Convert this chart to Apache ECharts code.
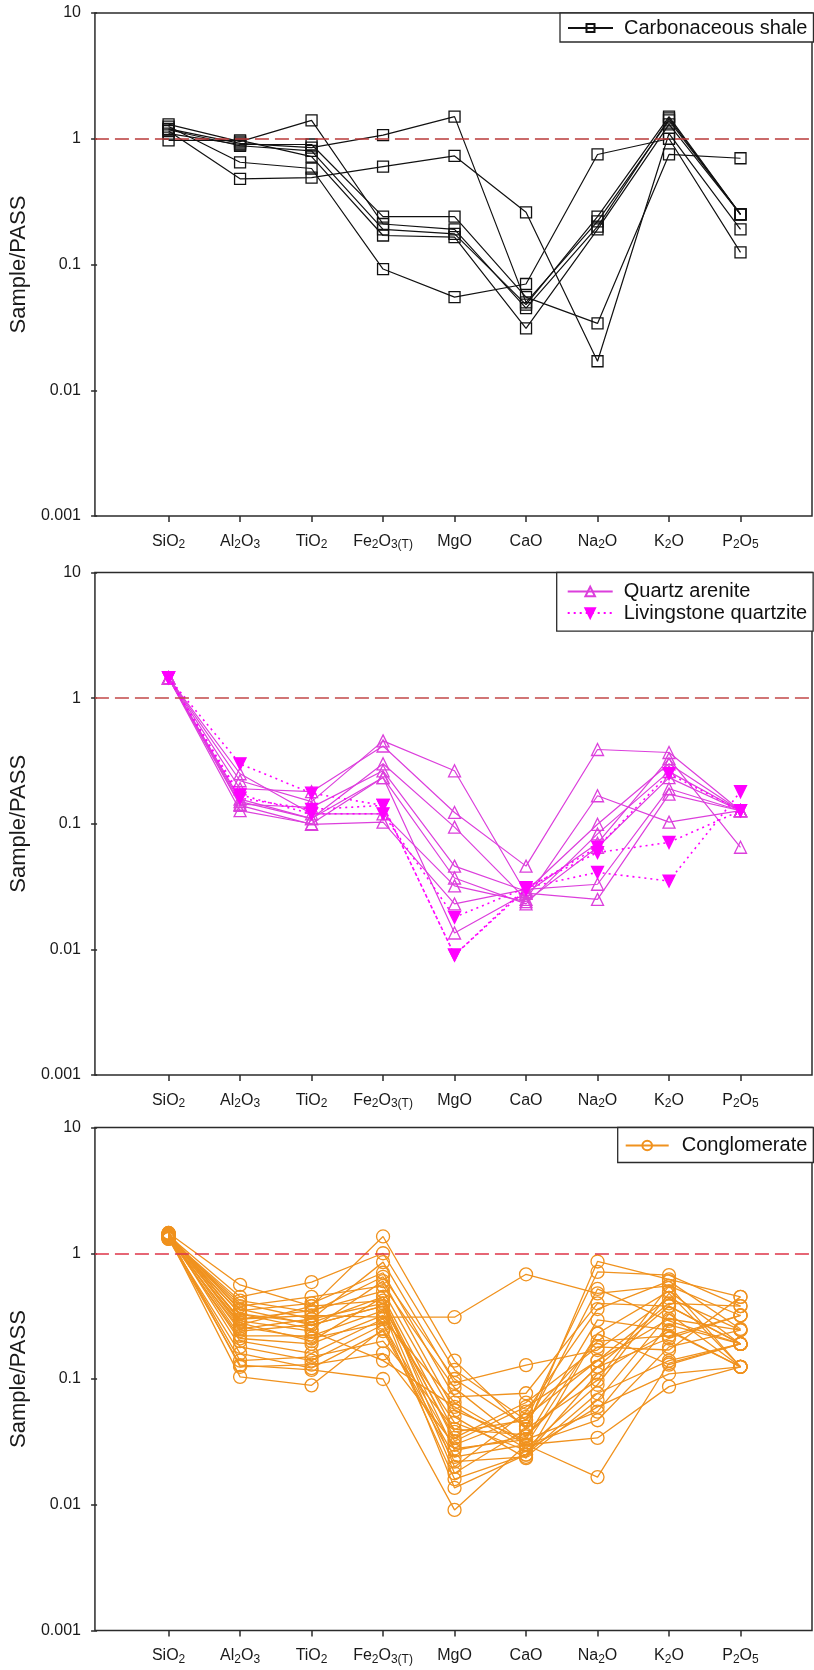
<!DOCTYPE html>
<html>
<head>
<meta charset="utf-8">
<script src="https://cdn.jsdelivr.net/npm/echarts@6/dist/echarts.min.js"></script>
<style>
html,body{margin:0;padding:0;background:#fff;}
#chart{width:814px;height:1670px;}
</style>
</head>
<body>
<div id="chart"></div>
<script>
// ---------- data ----------
const categories = ['SiO2', 'Al2O3', 'TiO2', 'Fe2O3(T)', 'MgO', 'CaO', 'Na2O', 'K2O', 'P2O5'];
const categoryLabels = ['SiO{s|2}', 'Al{s|2}O{s|3}', 'TiO{s|2}', 'Fe{s|2}O{s|3(T)}', 'MgO', 'CaO', 'Na{s|2}O', 'K{s|2}O', 'P{s|2}O{s|5}'];
const yTickLabels = ['0.001', '0.01', '0.1', '1', '10'];

const carbonaceousShale = [
  [1.30, 0.95, 1.40, 0.21, 0.19, 0.045, 0.20, 1.45, 0.25],
  [1.20, 0.92, 0.85, 1.07, 1.50, 0.050, 0.22, 1.40, 0.25],
  [1.15, 0.48, 0.49, 0.60, 0.73, 0.26, 0.017, 1.10, 0.19],
  [1.25, 0.65, 0.58, 0.092, 0.055, 0.070, 0.75, 1.00, 0.125],
  [1.10, 0.90, 0.90, 0.24, 0.24, 0.055, 0.034, 0.75, 0.70],
  [0.97, 0.97, 0.72, 0.17, 0.165, 0.031, 0.19, 1.30, 0.25],
  [1.18, 0.88, 0.80, 0.19, 0.175, 0.048, 0.24, 1.50, 0.25]
];

const quartzArenite = [
  [1.45, 0.22, 0.15, 0.457, 0.264, 0.028, 0.070, 0.33, 0.065],
  [1.45, 0.19, 0.18, 0.416, 0.123, 0.046, 0.39, 0.369, 0.127],
  [1.45, 0.157, 0.11, 0.30, 0.094, 0.025, 0.167, 0.103, 0.127],
  [1.45, 0.143, 0.135, 0.264, 0.046, 0.029, 0.099, 0.30, 0.127],
  [1.45, 0.127, 0.10, 0.233, 0.037, 0.023, 0.083, 0.26, 0.127],
  [1.45, 0.25, 0.12, 0.12, 0.032, 0.024, 0.065, 0.233, 0.127],
  [1.45, 0.14, 0.099, 0.103, 0.023, 0.030, 0.033, 0.19, 0.127],
  [1.45, 0.15, 0.11, 0.233, 0.0135, 0.028, 0.025, 0.172, 0.127]
];

const livingstoneQuartzite = [
  [1.45, 0.30, 0.175, 0.14, 0.009, 0.031, 0.059, 0.071, 0.127],
  [1.45, 0.17, 0.12, 0.12, 0.018, 0.031, 0.041, 0.035, 0.18],
  [1.45, 0.16, 0.13, 0.14, 0.009, 0.030, 0.065, 0.25, 0.127]
];

const conglomerate = [
  [1.40, 0.30, 0.32, 0.31, 0.31, 0.68, 0.48, 0.55, 0.32],
  [1.35, 0.104, 0.089, 0.25, 0.024, 0.030, 0.0166, 0.134, 0.19],
  [1.30, 0.129, 0.118, 0.10, 0.0091, 0.030, 0.034, 0.087, 0.125],
  [1.45, 0.56, 0.38, 1.36, 0.14, 0.040, 0.86, 0.62, 0.45],
  [1.38, 0.45, 0.59, 1.00, 0.118, 0.047, 0.71, 0.67, 0.38],
  [1.32, 0.40, 0.30, 0.85, 0.093, 0.129, 0.17, 0.44, 0.245],
  [1.42, 0.35, 0.40, 0.70, 0.072, 0.077, 0.40, 0.38, 0.19],
  [1.36, 0.33, 0.25, 0.60, 0.056, 0.033, 0.295, 0.245, 0.125],
  [1.40, 0.30, 0.35, 0.50, 0.050, 0.0235, 0.23, 0.50, 0.19],
  [1.33, 0.28, 0.20, 0.45, 0.038, 0.047, 0.20, 0.22, 0.32],
  [1.44, 0.27, 0.38, 0.42, 0.032, 0.060, 0.14, 0.30, 0.245],
  [1.31, 0.25, 0.30, 0.40, 0.027, 0.035, 0.125, 0.38, 0.19],
  [1.37, 0.24, 0.27, 0.38, 0.0178, 0.040, 0.098, 0.55, 0.125],
  [1.41, 0.22, 0.22, 0.35, 0.0136, 0.025, 0.077, 0.14, 0.19],
  [1.34, 0.21, 0.19, 0.32, 0.045, 0.027, 0.060, 0.11, 0.125],
  [1.39, 0.20, 0.16, 0.30, 0.065, 0.030, 0.047, 0.18, 0.245],
  [1.43, 0.18, 0.14, 0.27, 0.028, 0.033, 0.055, 0.27, 0.19],
  [1.30, 0.16, 0.122, 0.24, 0.022, 0.024, 0.068, 0.33, 0.125],
  [1.35, 0.14, 0.15, 0.20, 0.040, 0.036, 0.125, 0.21, 0.32],
  [1.40, 0.125, 0.13, 0.16, 0.030, 0.050, 0.14, 0.40, 0.38],
  [1.33, 0.38, 0.45, 0.55, 0.085, 0.030, 0.23, 0.13, 0.19],
  [1.38, 0.33, 0.28, 0.45, 0.020, 0.055, 0.36, 0.60, 0.25],
  [1.45, 0.29, 0.24, 0.14, 0.060, 0.028, 0.090, 0.48, 0.125],
  [1.32, 0.42, 0.34, 0.65, 0.100, 0.042, 0.52, 0.29, 0.19],
  [1.36, 0.36, 0.27, 0.38, 0.034, 0.065, 0.18, 0.17, 0.45],
  [1.42, 0.26, 0.21, 0.28, 0.016, 0.025, 0.11, 0.24, 0.125]
];

// ---------- chart ----------
const FF = '"Liberation Sans", Arial, Helvetica, sans-serif';
const AXIS = '#2b2b2b';
const tickPositions = categories.map((c, i) => i + 1);
const downTri = 'path://M0,0 L10,0 L5,9 Z';

const grids = [
  { left: 94, top: 13, width: 718, height: 503 },
  { left: 94, top: 572.5, width: 718, height: 502.5 },
  { left: 94, top: 1127.5, width: 718, height: 503 }
].map(g => Object.assign({ show: true, borderColor: AXIS, borderWidth: 1.5, backgroundColor: 'transparent' }, g));

const xAxes = grids.map((g, i) => ({
  type: 'value', gridIndex: i, min: -0.03, max: 10,
  axisLine: { show: false },
  axisTick: { show: true, inside: false, length: 6, customValues: tickPositions, lineStyle: { color: AXIS, width: 1.5 } },
  splitLine: { show: false },
  axisLabel: {
    show: true, customValues: tickPositions, margin: 16,
    formatter: v => categoryLabels[Math.round(v) - 1] || '',
    color: '#1a1a1a', fontFamily: FF, fontSize: 16, lineHeight: 19,
    rich: { s: { fontFamily: FF, fontSize: 12, lineHeight: 12, verticalAlign: 'bottom', color: '#1a1a1a' } }
  }
}));

const yAxes = grids.map((g, i) => ({
  type: 'log', logBase: 10, gridIndex: i, min: 0.001, max: 10,
  name: 'Sample/PASS', nameLocation: 'middle', nameGap: 61,
  nameTextStyle: { fontFamily: FF, fontSize: 22, color: '#1a1a1a' },
  axisLine: { show: false },
  axisTick: { show: true, inside: false, length: 6, lineStyle: { color: AXIS, width: 1.5 } },
  splitLine: { show: false },
  minorTick: { show: false },
  axisLabel: {
    margin: 14, fontFamily: FF, fontSize: 16, color: '#1a1a1a',
    formatter: v => {
      const e = Math.round(Math.log10(v));
      return yTickLabels[e + 3] || '';
    }
  }
}));

function refLine(color) {
  return {
    silent: true, symbol: ['none', 'none'], label: { show: false },
    lineStyle: { color: color, type: [14, 6], width: 1.5 },
    data: [{ yAxis: 1 }]
  };
}

function makeSeries(rows, name, gi, opts) {
  return rows.map((row, k) => {
    const s = {
      type: 'line', name: name, xAxisIndex: gi, yAxisIndex: gi,
      data: row.map((v, i) => [i + 1, v]),
      symbol: opts.symbol, symbolSize: opts.size,
      showAllSymbol: true,
      lineStyle: { color: opts.color, width: opts.lineWidth || 1.2, type: opts.lineType || 'solid' },
      itemStyle: { color: opts.fill, borderColor: opts.color, borderWidth: opts.borderWidth || 1.3 },
      emphasis: { disabled: true },
      z: opts.z || 2
    };
    if (k === 0 && opts.refColor) s.markLine = refLine(opts.refColor);
    return s;
  });
}

const series = [].concat(
  makeSeries(carbonaceousShale, 'Carbonaceous shale', 0,
    { symbol: 'rect', size: 11, color: '#111111', fill: 'rgba(0,0,0,0)', refColor: '#b93a3a' }),
  makeSeries(quartzArenite, 'Quartz arenite', 1,
    { symbol: 'triangle', size: 12, color: '#dc3fdc', fill: 'rgba(0,0,0,0)', refColor: '#c24848' }),
  makeSeries(livingstoneQuartzite, 'Livingstone quartzite', 1,
    { symbol: downTri, size: 12, color: '#ff00ff', fill: '#ff00ff', lineType: [2, 4], lineWidth: 1.6, z: 3 }),
  makeSeries(conglomerate, 'Conglomerate', 2,
    { symbol: 'circle', size: 13, color: '#f0921e', fill: 'rgba(0,0,0,0)', lineWidth: 1.3, refColor: '#de3548' })
);

const legendBase = {
  orient: 'vertical', itemWidth: 45, itemGap: 1.6,
  borderColor: AXIS, borderWidth: 1.3, backgroundColor: '#ffffff',
  selectedMode: false, z: 10
};

const legends = [
  Object.assign({}, legendBase, {
    left: 560, top: 13, padding: [5, 6, 4, 7], itemHeight: 10,
    data: ['Carbonaceous shale'],
    textStyle: { fontFamily: FF, fontSize: 20, color: '#111', padding: [0, 0, 0, 6] }
  }),
  Object.assign({}, legendBase, {
    left: 556.7, top: 572.5, padding: [9, 6, 8, 10], itemHeight: 12,
    data: ['Quartz arenite', 'Livingstone quartzite'],
    textStyle: { fontFamily: FF, fontSize: 20, color: '#111', padding: [0, 0, 0, 6] }
  }),
  Object.assign({}, legendBase, {
    left: 617.7, top: 1127.5, padding: [8, 6, 7, 7], itemWidth: 43, itemHeight: 12,
    data: ['Conglomerate'],
    textStyle: { fontFamily: FF, fontSize: 20, color: '#111', padding: [0, 0, 0, 8] }
  })
];

const chart = echarts.init(document.getElementById('chart'), null, { renderer: 'canvas' });
chart.setOption({
  animation: false,
  backgroundColor: '#ffffff',
  grid: grids,
  xAxis: xAxes,
  yAxis: yAxes,
  legend: legends,
  series: series
});
</script>
</body>
</html>
